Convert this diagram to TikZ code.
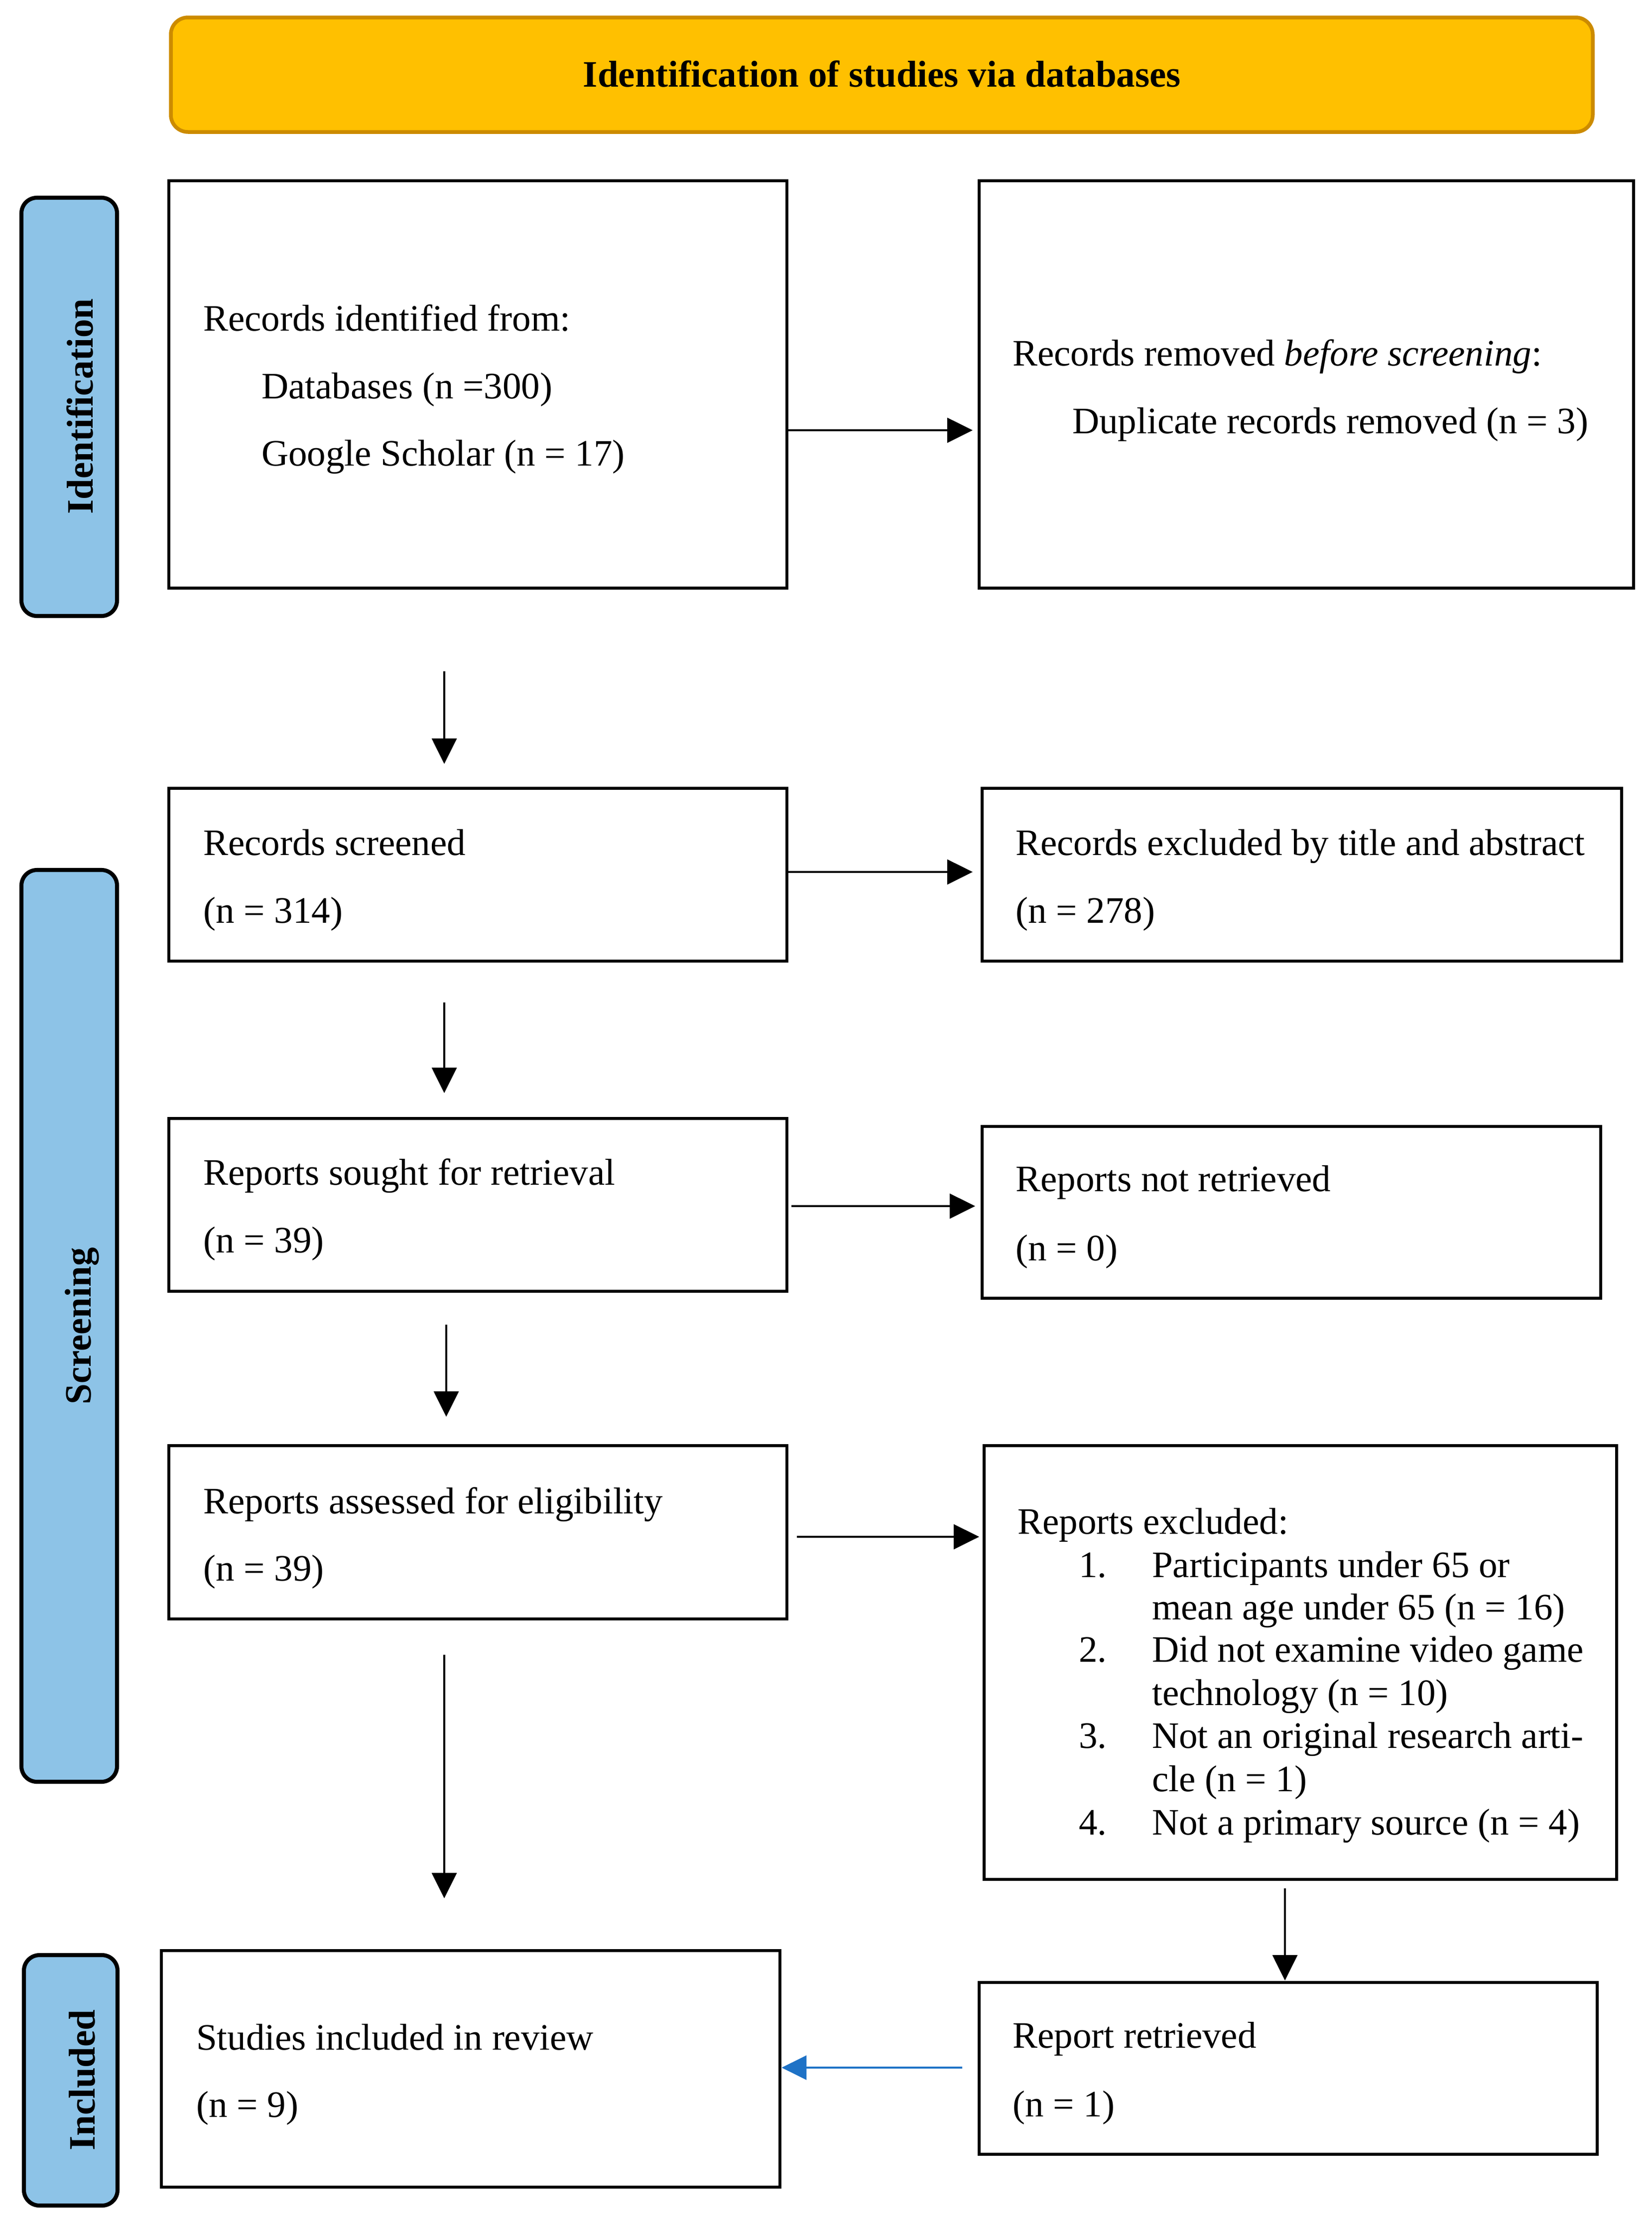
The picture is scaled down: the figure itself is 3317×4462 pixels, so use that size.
\documentclass[tikz,border=0pt]{standalone}
\usepackage{fontspec}
\setmainfont{Liberation Serif}
\usetikzlibrary{arrows.meta,fit}
\definecolor{titlefill}{HTML}{FFC000}
\definecolor{titleline}{HTML}{CC8B00}
\definecolor{sidefill}{HTML}{8DC3E7}
\definecolor{bluearr}{HTML}{1E72C6}
\begin{document}
\begin{tikzpicture}[x=0.16pt,y=-0.16pt,
  box/.style={draw=black, line width=1.1pt, inner sep=0pt, fill=white},
  side/.style={draw=black, line width=1.3pt, fill=sidefill, rounded corners=5pt, inner sep=0pt},
  titlebox/.style={draw=titleline, line width=1.2pt, fill=titlefill, rounded corners=5.5pt, inner sep=0pt},
  txt/.style={inner sep=0pt, anchor=base west, font=\fontsize{12}{14}\selectfont},
  sidetxt/.style={inner sep=0pt, anchor=base, rotate=90, font=\fontsize{12}{14}\selectfont\bfseries},
  arr/.style={draw=black, line width=0.6pt, -{Triangle[length=8.2pt,width=8pt]}},
  bluearrow/.style={draw=bluearr, line width=0.55pt, -{Triangle[length=8pt,width=7.8pt]}}
]
\useasboundingbox (0,0) rectangle (3317,4462);

% title
\node[titlebox, fit={(343,35) (3198,265)}] (title) {};
\node[inner sep=0pt, anchor=base, font=\fontsize{12}{14}\selectfont\bfseries] (titletxt) at (1771,174) {Identification of studies via databases};

% side bars
\node[side, fit={(43,397) (235,1237)}] (sideid) {};
\node[sidetxt] (sideidtxt) at (186,816) {Identification};
\node[side, fit={(43,1747) (235,3578)}] (sidescr) {};
\node[sidetxt] (sidescrtxt) at (182,2663) {Screening};
\node[side, fit={(48,3926) (236,4429)}] (sideinc) {};
\node[sidetxt] (sideinctxt) at (190,4177) {Included};

% boxes
\node[box, fit={(339,363) (1580,1181)}] (b1) {};
\node[txt] (b1a) at (407,664) {Records identified from:};
\node[txt] (b1b) at (524,800) {Databases (n =300)};
\node[txt] (b1c) at (524,935) {Google Scholar (n = 17)};

\node[box, fit={(1966,363) (3280,1181)}] (b2) {};
\node[txt] (b2a) at (2032,734) {Records removed \textit{before screening}:};
\node[txt] (b2b) at (2152,870) {Duplicate records removed (n = 3)};

\node[box, fit={(339,1583) (1580,1930)}] (b3) {};
\node[txt] (b3a) at (407,1717) {Records screened};
\node[txt] (b3b) at (407,1853) {(n = 314)};

\node[box, fit={(1972,1583) (3256,1930)}] (b4) {};
\node[txt] (b4a) at (2038,1717) {Records excluded by title and abstract};
\node[txt] (b4b) at (2038,1853) {(n = 278)};

\node[box, fit={(339,2246) (1580,2593)}] (b5) {};
\node[txt] (b5a) at (407,2379) {Reports sought for retrieval};
\node[txt] (b5b) at (407,2515) {(n = 39)};

\node[box, fit={(1972,2262) (3214,2607)}] (b6) {};
\node[txt] (b6a) at (2038,2392) {Reports not retrieved};
\node[txt] (b6b) at (2038,2531) {(n = 0)};

\node[box, fit={(339,2903) (1580,3251)}] (b7) {};
\node[txt] (b7a) at (407,3039) {Reports assessed for eligibility};
\node[txt] (b7b) at (407,3174) {(n = 39)};

\node[box, fit={(1976,2903) (3246,3774)}] (b8) {};
\node[txt] (b8h) at (2042,3080) {Reports excluded:};
\node[txt] (b8n1) at (2165,3167) {1.};
\node[txt] (b8l1) at (2312,3167) {Participants under 65 or};
\node[txt] (b8l2) at (2312,3252) {mean age under 65 (n = 16)};
\node[txt] (b8n2) at (2165,3337) {2.};
\node[txt] (b8l3) at (2312,3337) {Did not examine video game};
\node[txt] (b8l4) at (2312,3424) {technology (n = 10)};
\node[txt] (b8n3) at (2165,3510) {3.};
\node[txt] (b8l5) at (2312,3510) {Not an original research arti-};
\node[txt] (b8l6) at (2312,3597) {cle (n = 1)};
\node[txt] (b8n4) at (2165,3684) {4.};
\node[txt] (b8l7) at (2312,3684) {Not a primary source (n = 4)};

\node[box, fit={(324,3917) (1566,4392)}] (b9) {};
\node[txt] (b9a) at (393,4116) {Studies included in review};
\node[txt] (b9b) at (393,4251) {(n = 9)};

\node[box, fit={(1966,3981) (3207,4326)}] (b10) {};
\node[txt] (b10a) at (2032,4112) {Report retrieved};
\node[txt] (b10b) at (2032,4250) {(n = 1)};

% connector end points
\coordinate (h1) at (1953,864);
\coordinate (h2) at (1953,1751);
\coordinate (h3s) at (1589,2422);
\coordinate (h3) at (1958,2422);
\coordinate (h4s) at (1600,3086);
\coordinate (h4) at (1966,3086);
\coordinate (v1s) at (892,1348);
\coordinate (v1) at (892,1534);
\coordinate (v2s) at (892,2013);
\coordinate (v2) at (892,2195);
\coordinate (v3s) at (896,2660);
\coordinate (v3) at (896,2845);
\coordinate (v4s) at (892,3323);
\coordinate (v4) at (892,3812);
\coordinate (v5s) at (2580,3792);
\coordinate (v5) at (2580,3977);
\coordinate (bs) at (1932,4152);

% connectors
\draw[arr] (b1.east |- h1) -- (h1);
\draw[arr] (b3.east |- h2) -- (h2);
\draw[arr] (h3s) -- (h3);
\draw[arr] (h4s) -- (h4);
\draw[arr] (v1s) -- (v1);
\draw[arr] (v2s) -- (v2);
\draw[arr] (v3s) -- (v3);
\draw[arr] (v4s) -- (v4);
\draw[arr] (v5s) -- (v5);
\draw[bluearrow] (bs) -- (b9.east |- bs);
\end{tikzpicture}
\end{document}
